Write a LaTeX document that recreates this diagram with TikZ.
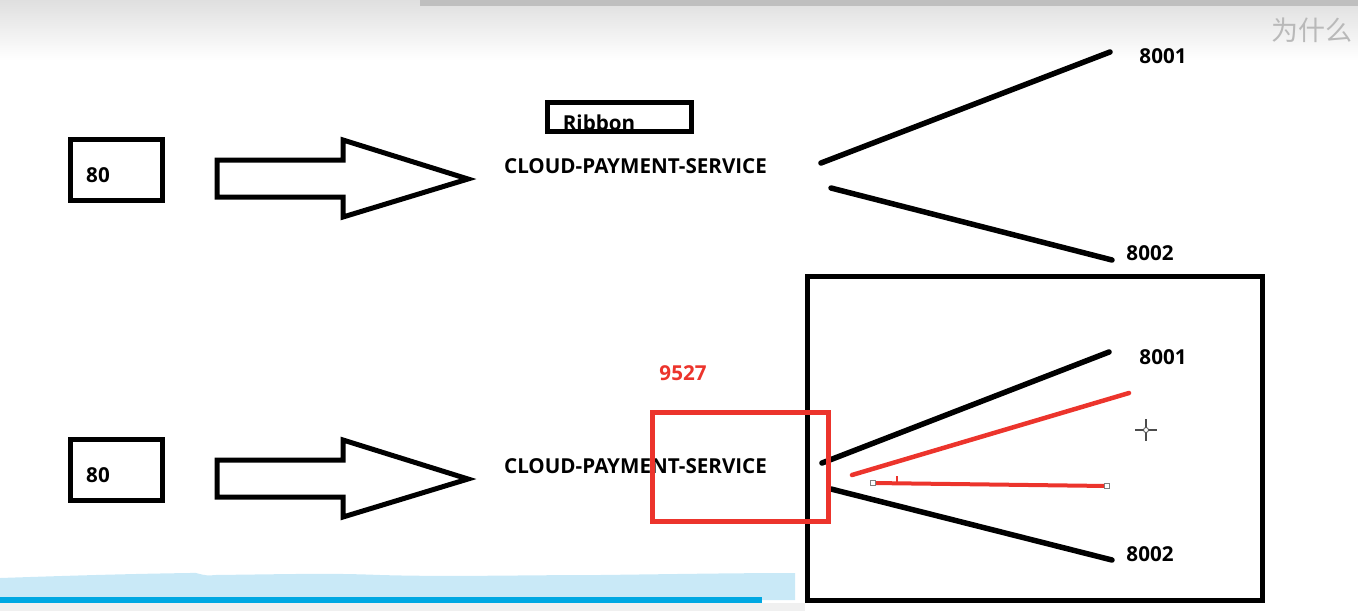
\documentclass[tikz,border=0pt]{standalone}
\usepackage{fontspec}
\setmainfont{Open Sans}
\newfontfamily\cjk{Noto Sans CJK SC}
\usetikzlibrary{
    positioning
}

\definecolor{penred}{RGB}{236,52,44}
\definecolor{barblue}{RGB}{0,168,226}
\definecolor{wave}{RGB}{201,233,247}

\begin{document}
\begin{tikzpicture}[x=1pt,y=-1pt,line width=5pt,
    lbl/.style={font=\bfseries\fontsize{20.6}{21}\selectfont,inner sep=0pt},
    port/.style={draw,minimum width=92pt,minimum height=61pt,inner sep=0pt},
    pen/.style={line width=5.5pt,line cap=round}]

\useasboundingbox (0,0) rectangle (1358,611);

% screen background
\shade[top color=gray!25,bottom color=white] (0,0) rectangle (1358,60);
\fill[gray!50] (420,0) rectangle (1358,6);
\node[font=\cjk\fontsize{27}{28}\selectfont,text=gray!55,inner sep=0pt]
  (why) at (1312,30) {为什么};

% the two rows
\foreach \r/\y in {1/0,2/300}{
  \node[port] (box\r) at (116.5,170+\y) {};
  \node[lbl] (num\r) at (98,175+\y) {80};
  \draw[miter limit=10]
    (217,160+\y) --
    (343,160+\y) --
    (343,140+\y) --
    (468,179+\y) --
    (343,217+\y) --
    (343,197+\y) --
    (217,197+\y) -- cycle;
  \node[lbl] (svc\r) at (635.5,166+\y) {CLOUD-PAYMENT-SERVICE};
}

% Ribbon
\node[draw,minimum width=144pt,minimum height=29pt,inner sep=0pt]
  (ribbon) at (619.5,117) {};
\node[lbl] (ribtext) at (599,123) {Ribbon};

% upper fan
\coordinate (up1) at (821,163);
\coordinate (up2) at (831,188);
\node[lbl] (pa1) at (1163,56) {8001};
\node[lbl] (pb1) at (1150,253) {8002};
\coordinate (ea1) at (1110,52);
\coordinate (eb1) at (1112,260);
\draw[pen] (up1) -- (ea1);
\draw[pen] (up2) -- (eb1);

% gateway frame
\node[draw,minimum width=455pt,minimum height=324pt,inner sep=0pt]
  (frame) at (1035,438.5) {};

% lower fan
\coordinate (lo1) at (822,463);
\coordinate (lo2) at (831,489);
\node[lbl] (pa2) at (1163,357) {8001};
\node[lbl] (pb2) at (1150,554) {8002};
\coordinate (ea2) at (1109,352);
\coordinate (eb2) at (1112,560);
\draw[pen] (lo1) -- (ea2);
\draw[pen] (lo2) -- (eb2);

% 9527
\node[lbl,text=penred] (gw) at (683,373) {9527};
\node[draw=penred,minimum width=176pt,minimum height=109pt,inner sep=0pt]
  (gwbox) at (740,466.5) {};

% red strokes
\coordinate (r1) at (852,475);
\coordinate (r2) at (1129,393);
\coordinate (r3) at (873,483);
\coordinate (r4) at (1107,486);
\draw[penred,line width=4.5pt,line cap=round] (r1) -- (r2);
\draw[penred,line width=4pt] (r3) -- (r4);
\draw[penred,line width=2.5pt] (897,476) -- (897,483);
\foreach \c in {r3,r4}{
  \draw[gray,line width=0.8pt,fill=white] (\c) ++(-2.5,-2.5) rectangle ++(5,5);
}

% cursor
\draw[black!70,line width=1.2pt] (1146,419) -- (1146,441) (1135,430) -- (1157,430);
\draw[black!70,fill=white,line width=0.8pt] (1146,430) circle (2.5);

% video bar
\fill[wave] (0,600) -- (0,578)
  .. controls (60,576) and (120,574) .. (190,573)
  .. controls (196,571) and (202,577) .. (215,575)
  .. controls (300,574) and (330,573) .. (380,575)
  .. controls (450,577) and (520,575) .. (600,575)
  .. controls (680,574) and (740,573) .. (795,573)
  -- (795,600) -- cycle;
\fill[barblue] (0,597) rectangle (762,603);
\fill[gray!12] (0,603) rectangle (805,611);

\end{tikzpicture}
\end{document}
